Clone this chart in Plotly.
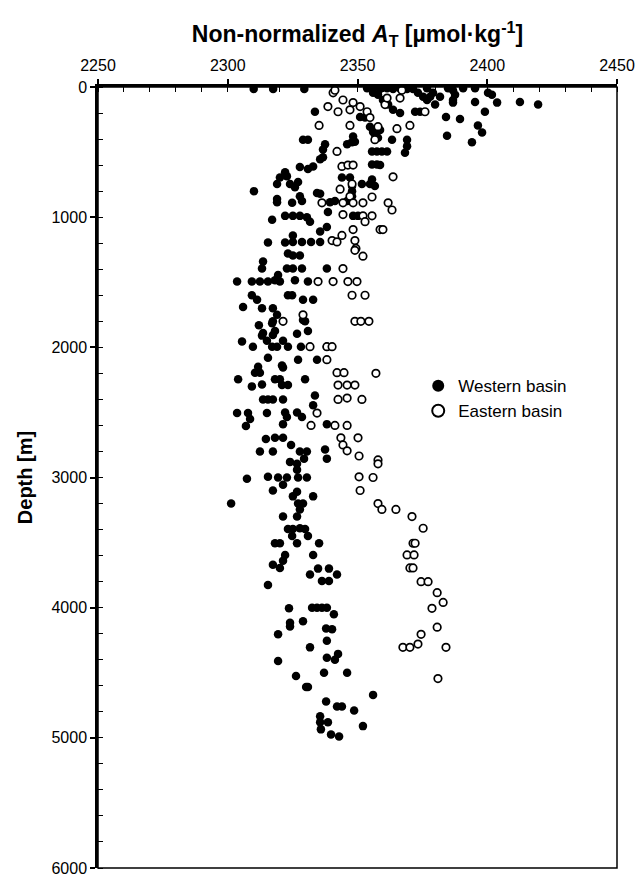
import plotly.graph_objects as go

# Western basin (filled) : alkalinity [umol/kg], depth [m]
west_at = [
    2310, 2317.5, 2329.5,
    2353.7, 2356, 2358.7, 2361.4, 2363.7, 2366.4, 2369.1, 2371.4, 2373.3, 2375.3, 2376.8,
    2356, 2357.9, 2359.8, 2361.8, 2363.7, 2366.4, 2372.2, 2374.1,
    2333.6, 2351, 2352.9,
    2354.8, 2356, 2356.7, 2358.7, 2357.9, 2363.3,
    2348.3, 2349, 2347.9,
    2337.5, 2336.7, 2336.7, 2346,
    2355.6, 2357.5, 2359.4, 2361.4,
    2369.1, 2369.1, 2368.3,
    2329, 2330.9,
    2332.9, 2330.9, 2327.8,
    2355.6, 2357.5, 2358.7,
    2344, 2347.1, 2347.9, 2355.6,
    2376.8, 2379.1, 2381.8, 2378,
    2384.9, 2386.8, 2387.6, 2386.8, 2386.8,
    2390.7, 2395.3,
    2400.3, 2401.8, 2403.8, 2395.3, 2379.9,
    2412.6, 2419.6, 2399.1, 2384.1, 2389.5, 2396.4, 2398, 2384.5, 2394.1,
    2335.6, 2322.1, 2322.8, 2320.1, 2319,
    2324, 2325.9, 2327.1, 2310.1,
    2319, 2319, 2324.8, 2327.8, 2328.6,
    2334.4, 2335.6, 2339.4, 2341.3, 2346,
    2351.7, 2354.8, 2356.7, 2347.9, 2347.9,
    2317.1, 2322.1, 2325.1, 2327.8, 2330.5, 2331.7,
    2335.6, 2338.2, 2338.6, 2348.3, 2350.2,
    2315.5, 2322.1, 2325.1, 2328.6, 2332.1, 2335.6, 2325.1,
    2323.2, 2325.1, 2327.8,
    2313.6, 2313.2,
    2322.8, 2325.1, 2328.6, 2338.2,
    2303.6, 2309.3, 2312.4, 2315.5, 2318.2, 2320.1, 2319.4, 2325.9, 2330.9,
    2309.3, 2311.3, 2323.2, 2324.8, 2329, 2332.9,
    2305.9, 2313.2, 2317.4, 2319, 2317.4, 2312, 2329,
    2313.6, 2313.2, 2317.1, 2318.2, 2317.4, 2326.7, 2329.8, 2330.9,
    2305.5, 2309.7, 2315.1, 2317.1, 2319, 2321.3, 2323.2, 2328.2, 2338.2,
    2315.5, 2327.1, 2334.4,
    2311.7, 2310.5, 2312.4, 2320.9, 2321.3,
    2304, 2309.3, 2313.2, 2318.2, 2320.1, 2320.9, 2323.2, 2329.8,
    2313.6, 2315.5, 2317.4, 2321.3, 2333.6, 2332.9,
    2303.6, 2307.8, 2308.6, 2307, 2315.1,
    2322.1, 2322.8, 2321.3, 2326.7, 2328.6, 2338.2,
    2314.7, 2318.2, 2321.3, 2324.4,
    2312.4, 2317.4, 2327.8, 2330.5, 2329.4, 2337.5, 2338.2,
    2324, 2326.7, 2326.7,
    2307.4, 2315.5, 2319.4, 2321.3, 2322.8, 2327.1, 2330.5,
    2317.4, 2325.1, 2326.7, 2332.9,
    2327.1, 2329, 2327.8, 2326.7, 2301.3, 2321.3,
    2323.2, 2325.1, 2327.8, 2329.8, 2330.9, 2324.8, 2326.7,
    2318.2, 2320.1, 2335.2,
    2322.1, 2321.3, 2320.1, 2317.4, 2332.9,
    2331.7, 2334.8, 2336.3, 2339, 2339, 2342.1, 2315.5,
    2323.6, 2332.5, 2334.4, 2336.3, 2338.2, 2340.9,
    2324, 2324, 2329, 2337.9, 2340.2, 2319.4, 2338.2, 2331.7,
    2342.5, 2341.3, 2338.2, 2319.4,
    2326.3, 2337.1, 2346, 2330.2, 2330.9, 2356,
    2337.9, 2342.1, 2344, 2348.7,
    2335.6, 2335.6, 2335.9, 2338.6, 2352.1, 2339.8, 2342.9,
]
west_depth = [
    15, 15, 15,
    10, 10, 15, 10, 15, 10, 15, 15, 45, 75, 100,
    45, 60, 100, 135, 175, 200, 190, 190,
    190, 230, 235,
    305, 345, 365, 330, 390, 405,
    380, 420, 425,
    440, 480, 540, 440,
    495, 495, 495, 495,
    405, 455, 505,
    405, 405,
    610, 630, 615,
    595, 595, 600,
    695, 695, 760, 710,
    10, 45, 75, 75,
    10, 25, 60, 120, 100,
    10, 10,
    45, 60, 120, 115, 135,
    115, 135, 190, 230, 245, 295, 350, 375, 425,
    555, 655, 685, 695, 745,
    745, 770, 730, 800,
    860, 885, 890, 840, 875,
    815, 820, 885, 875, 875,
    745, 745, 760, 800, 840,
    1020, 990, 990, 990, 1000, 1035,
    1110, 1075, 960, 990, 990,
    1195, 1195, 1190, 1190, 1190, 1190, 1140,
    1280, 1295, 1295,
    1340, 1395,
    1395, 1395, 1395, 1395,
    1495, 1495, 1495, 1495, 1485, 1495, 1445, 1485, 1495,
    1600, 1635, 1600, 1600, 1635, 1635,
    1690, 1700, 1700, 1750, 1800, 1830, 1790,
    1890, 1910, 1815, 1875, 1905, 1895, 1800, 1875,
    1955, 1995, 1950, 1995, 1995, 1950, 1995, 1995, 1995,
    2080, 2095, 2095,
    2150, 2195, 2195, 2140, 2155,
    2245, 2300, 2285, 2245, 2245, 2290, 2290, 2245,
    2400, 2400, 2400, 2400, 2370, 2445,
    2505, 2505, 2550, 2605, 2505,
    2500, 2535, 2590, 2500, 2535, 2590,
    2705, 2695, 2695, 2750,
    2800, 2800, 2800, 2800, 2855, 2785, 2855,
    2880, 2895, 2940,
    3010, 2995, 3000, 3055, 3000, 3000, 3000,
    3100, 3145, 3110, 3145,
    3200, 3200, 3245, 3300, 3200, 3300,
    3395, 3395, 3390, 3395, 3450, 3450, 3505,
    3505, 3505, 3505,
    3595, 3640, 3695, 3670, 3595,
    3745, 3700, 3795, 3795, 3700, 3745, 3825,
    4005, 4000, 4000, 4000, 4000, 4050,
    4115, 4145, 4105, 4160, 4165, 4205, 4255, 4305,
    4355, 4400, 4385, 4410,
    4525, 4500, 4500, 4610, 4610, 4670,
    4720, 4760, 4760, 4790,
    4835, 4880, 4935, 4880, 4910, 4975, 4990,
]

# Eastern basin (open)
east_at = [
    2340.6, 2341.3, 2344.4, 2338.6, 2342.5, 2348.3, 2351, 2347.1,
    2353.7, 2354.8, 2360.6, 2361.4, 2367.1, 2366.4, 2376,
    2335.2, 2347.1, 2365.2, 2370.2, 2356.7, 2357.9,
    2342.1, 2344, 2346.3, 2348.3,
    2343.3, 2347.9, 2347.1, 2355.6, 2363.7,
    2336.3, 2344.4, 2348.3, 2352.1, 2361.8, 2363.3,
    2344.4, 2352.1, 2355.6, 2352.9,
    2348.3, 2358.7, 2359.8,
    2344, 2340.2, 2342.1, 2349, 2349.4, 2349, 2352.1,
    2344.4,
    2334.8, 2340.6, 2346.3, 2349.8,
    2347.9, 2352.9,
    2329, 2321.3, 2349, 2351.3, 2354.4,
    2331.7, 2338.2, 2340.2, 2338.2,
    2342.1, 2344.8, 2357.1,
    2342.5, 2346, 2349,
    2342.5, 2346, 2351.7,
    2334.4, 2332.1, 2341.3, 2346,
    2343.6, 2344.4, 2346, 2350.2,
    2350.6, 2357.9, 2357.9,
    2350.6, 2356, 2351,
    2357.9, 2359.4, 2364.8, 2371, 2375.3,
    2371.4, 2372.2, 2369.1, 2371.8, 2370.2, 2371.4,
    2374.5, 2377.2, 2380.7, 2383, 2378.7, 2380.7, 2374.5,
    2367.5, 2370.2, 2373.3, 2384.1, 2381,
]
east_depth = [
    45, 25, 100, 150, 190, 120, 150, 175,
    190, 235, 135, 85, 25, 85, 190,
    295, 295, 320, 295, 405, 305,
    495, 610, 600, 600,
    785, 745, 840, 845, 690,
    890, 890, 890, 890, 890, 945,
    980, 990, 990, 1035,
    1095, 1095, 1095,
    1140, 1180, 1190, 1180, 1240, 1255, 1300,
    1395,
    1495, 1495, 1495, 1495,
    1600, 1600,
    1750, 1800, 1800, 1800, 1800,
    1995, 1995, 1995, 2095,
    2195, 2195, 2200,
    2290, 2290, 2290,
    2400, 2390, 2400,
    2505, 2600, 2600, 2600,
    2695, 2750, 2795, 2695,
    2835, 2865, 2895,
    2995, 3000, 3100,
    3200, 3245, 3245, 3300, 3390,
    3505, 3505, 3595, 3595, 3695, 3695,
    3800, 3800, 3885, 3960, 4005, 4150, 4205,
    4305, 4305, 4280, 4305, 4545,
]

x_ticks = [2250, 2300, 2350, 2400, 2450]
y_ticks = [0, 1000, 2000, 3000, 4000, 5000, 6000]

FONT = "Arial, Liberation Sans, sans-serif"
X_RANGE = [2250, 2450]
Y_RANGE = [6000, 0]

fig = go.Figure()
fig.add_trace(go.Scatter(
    x=west_at, y=west_depth, mode="markers", name="Western basin",
    marker=dict(symbol="circle", size=8.5, color="black", line=dict(width=0)),
))
fig.add_trace(go.Scatter(
    x=east_at, y=east_depth, mode="markers", name="Eastern basin",
    marker=dict(symbol="circle", size=7.5, color="white", line=dict(color="black", width=1.7)),
))

fig.update_layout(
    width=639, height=883,
    margin=dict(l=98, r=22, t=87, b=15),
    paper_bgcolor="white", plot_bgcolor="white",
    font=dict(family=FONT, size=16, color="black"),
    showlegend=True,
    legend=dict(x=0.617, y=0.64, xanchor="left", yanchor="top",
                font=dict(family=FONT, size=17, color="black"),
                bgcolor="rgba(0,0,0,0)", itemsizing="constant",
                tracegroupgap=0, itemwidth=30),
    # helper axes that give the inward half of the crossing major ticks
    xaxis2=dict(overlaying="x", side="top", range=X_RANGE, tickvals=x_ticks,
                ticks="inside", ticklen=6, tickwidth=1.5, tickcolor="black",
                showticklabels=False, showgrid=False, zeroline=False, showline=False),
    yaxis2=dict(overlaying="y", side="left", range=Y_RANGE, tickvals=y_ticks,
                ticks="inside", ticklen=6, tickwidth=1.5, tickcolor="black",
                showticklabels=False, showgrid=False, zeroline=False, showline=False,
                anchor="x"),
)
fig.layout.xaxis.update(
    side="top", range=X_RANGE, tickvals=x_ticks,
    ticktext=[str(v) for v in x_ticks],
    ticks="outside", ticklen=5, tickwidth=1.5, tickcolor="black",
    ticklabelstandoff=2, automargin=False,
    minor=dict(dtick=10, ticks="inside", ticklen=5, tickwidth=1, tickcolor="black"),
    showline=True, linewidth=2.5, linecolor="black", mirror=False,
    showgrid=False, zeroline=False,
    tickfont=dict(family=FONT, size=16),
    title=dict(text="<b>Non-normalized <i>A</i><sub>T</sub> [µmol·kg<sup>-1</sup>]</b>",
               font=dict(family=FONT, size=23), standoff=8),
)
fig.layout.yaxis.update(
    range=Y_RANGE, tickvals=y_ticks,
    ticks="outside", ticklen=5, tickwidth=1.5, tickcolor="black",
    automargin=False,
    minor=dict(dtick=200, ticks="inside", ticklen=5, tickwidth=1, tickcolor="black"),
    showline=True, linewidth=2.5, linecolor="black", mirror=False,
    showgrid=False, zeroline=False,
    tickfont=dict(family=FONT, size=16),
    title=dict(text="<b>Depth [m]</b>", font=dict(family=FONT, size=20), standoff=14),
)
fig.add_shape(type="rect", xref="paper", yref="paper", x0=0, y0=0, x1=1, y1=1,
              line=dict(color="black", width=1.5), layer="above")

fig.write_html("out.html")
